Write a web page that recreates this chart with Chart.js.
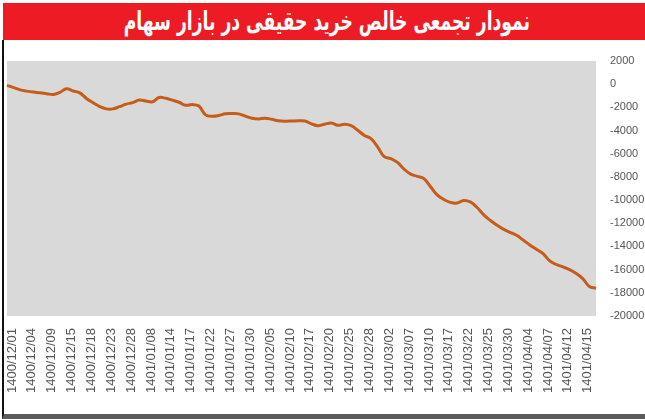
<!DOCTYPE html>
<html>
<head>
<meta charset="utf-8">
<script src="https://cdn.jsdelivr.net/npm/chart.js@4.4.0/dist/chart.umd.min.js"></script>
<style>
  body { margin: 0; background: #fff; }
  #wrap { position: relative; width: 645px; height: 419px; overflow: hidden; }
  #title {
    position: absolute; left: 3px; top: 3px; width: 642px; height: 37px;
    background: #ed1c24; text-align: center;
  }
  #title span {
    display: inline-block; color: #fff;
    font-family: "DejaVu Sans", sans-serif; font-weight: bold; font-size: 26px;
    line-height: 36px; direction: rtl; transform: scaleX(0.66); white-space: nowrap;
    margin-left: 6px;
  }
  #frame {
    position: absolute; left: 2px; top: 40px; width: 643px; height: 374px;
    border-left: 2px solid #111; border-bottom: 5px solid #5b5b5b;
  }
  #box { position: absolute; left: 3px; top: 42px; width: 642px; height: 372px; }
</style>
</head>
<body>
<div id="wrap">
  <div id="title"><span>نمودار تجمعی خالص خرید حقیقی در بازار سهام</span></div>
  <div id="frame"></div>
  <div id="box"><canvas id="chart"></canvas></div>
</div>
<script>
// تاریخ‌های معاملاتی (هر سه روز یک برچسب نمایش داده می‌شود)
const dates = [
  '1400/12/01','1400/12/02','1400/12/03','1400/12/04','1400/12/07','1400/12/08',
  '1400/12/09','1400/12/11','1400/12/14','1400/12/15','1400/12/16','1400/12/17',
  '1400/12/18','1400/12/21','1400/12/22','1400/12/23','1400/12/24','1400/12/25',
  '1400/12/28','1400/12/29','1401/01/07','1401/01/08','1401/01/09','1401/01/10',
  '1401/01/14','1401/01/15','1401/01/16','1401/01/17','1401/01/20','1401/01/21',
  '1401/01/22','1401/01/23','1401/01/24','1401/01/27','1401/01/28','1401/01/29',
  '1401/01/30','1401/01/31','1401/02/04','1401/02/05','1401/02/06','1401/02/07',
  '1401/02/10','1401/02/11','1401/02/14','1401/02/17','1401/02/18','1401/02/19',
  '1401/02/20','1401/02/21','1401/02/24','1401/02/25','1401/02/26','1401/02/27',
  '1401/02/28','1401/02/31','1401/03/01','1401/03/02','1401/03/03','1401/03/04',
  '1401/03/07','1401/03/08','1401/03/09','1401/03/10','1401/03/11','1401/03/16',
  '1401/03/17','1401/03/18','1401/03/21','1401/03/22','1401/03/23','1401/03/24',
  '1401/03/25','1401/03/28','1401/03/29','1401/03/30','1401/03/31','1401/04/01',
  '1401/04/04','1401/04/05','1401/04/06','1401/04/07','1401/04/08','1401/04/11',
  '1401/04/12','1401/04/13','1401/04/14','1401/04/15','1401/04/18','1401/04/19'
];

// خالص خرید حقیقی تجمعی
const netBuy = [
  -100, -300, -490, -600, -680, -740,
  -820, -890, -700, -400, -590, -750,
  -1230, -1600, -1930, -2130, -2130, -1940,
  -1720, -1590, -1370, -1460, -1520, -1150,
  -1220, -1380, -1560, -1820, -1760, -1880,
  -2650, -2760, -2700, -2560, -2540, -2560,
  -2760, -2940, -3000, -2940, -3030, -3150,
  -3190, -3180, -3160, -3180, -3420, -3580,
  -3450, -3350, -3550, -3460, -3580, -3980,
  -4420, -4700, -5400, -6260, -6420, -6750,
  -7330, -7760, -7950, -8150, -8850, -9550,
  -9950, -10200, -10260, -10040, -10160, -10620,
  -11250, -11740, -12150, -12510, -12780, -13040,
  -13450, -13870, -14240, -14620, -15240, -15550,
  -15760, -16000, -16330, -16780, -17450, -17600
];

const labelStep = 3;
const yMin = -20000;
const yMax = 2000;
const yStep = 2000;

const plotBg = {
  id: 'plotBg',
  beforeDraw(chart) {
    const a = chart.chartArea;
    const ctx = chart.ctx;
    ctx.save();
    ctx.fillStyle = '#d9d9d9';
    ctx.fillRect(a.left, a.top, a.right - a.left, a.bottom - a.top);
    ctx.restore();
  }
};

new Chart(document.getElementById('chart'), {
  type: 'line',
  data: {
    labels: dates,
    datasets: [{
      data: netBuy,
      borderColor: '#c65c1c',
      borderWidth: 3,
      pointRadius: 0,
      tension: 0.4,
      fill: false
    }]
  },
  options: {
    responsive: true,
    maintainAspectRatio: false,
    animation: false,
    layout: { padding: { left: 2, top: 19, right: 0, bottom: 0 } },
    plugins: {
      legend: { display: false },
      tooltip: { enabled: false }
    },
    scales: {
      x: {
        grid: { display: false },
        border: { display: false },
        ticks: {
          autoSkip: false,
          minRotation: 90,
          maxRotation: 90,
          padding: 4,
          labelOffset: 5,
          color: '#555',
          font: { family: '"Liberation Sans", sans-serif', size: 13 },
          callback: function(v, i) { return i % labelStep === 0 ? dates[i] : ''; }
        },
        afterFit(scale) { scale.height = 98; }
      },
      y: {
        position: 'right',
        min: yMin,
        max: yMax,
        grid: { display: false },
        border: { display: false },
        ticks: {
          stepSize: yStep,
          padding: 6,
          color: '#555',
          font: { family: '"Liberation Sans", sans-serif', size: 11 },
          callback: function(v) { return String(v); }
        },
        afterFit(scale) { scale.width = 49; }
      }
    }
  },
  plugins: [plotBg]
});
</script>
</body>
</html>
